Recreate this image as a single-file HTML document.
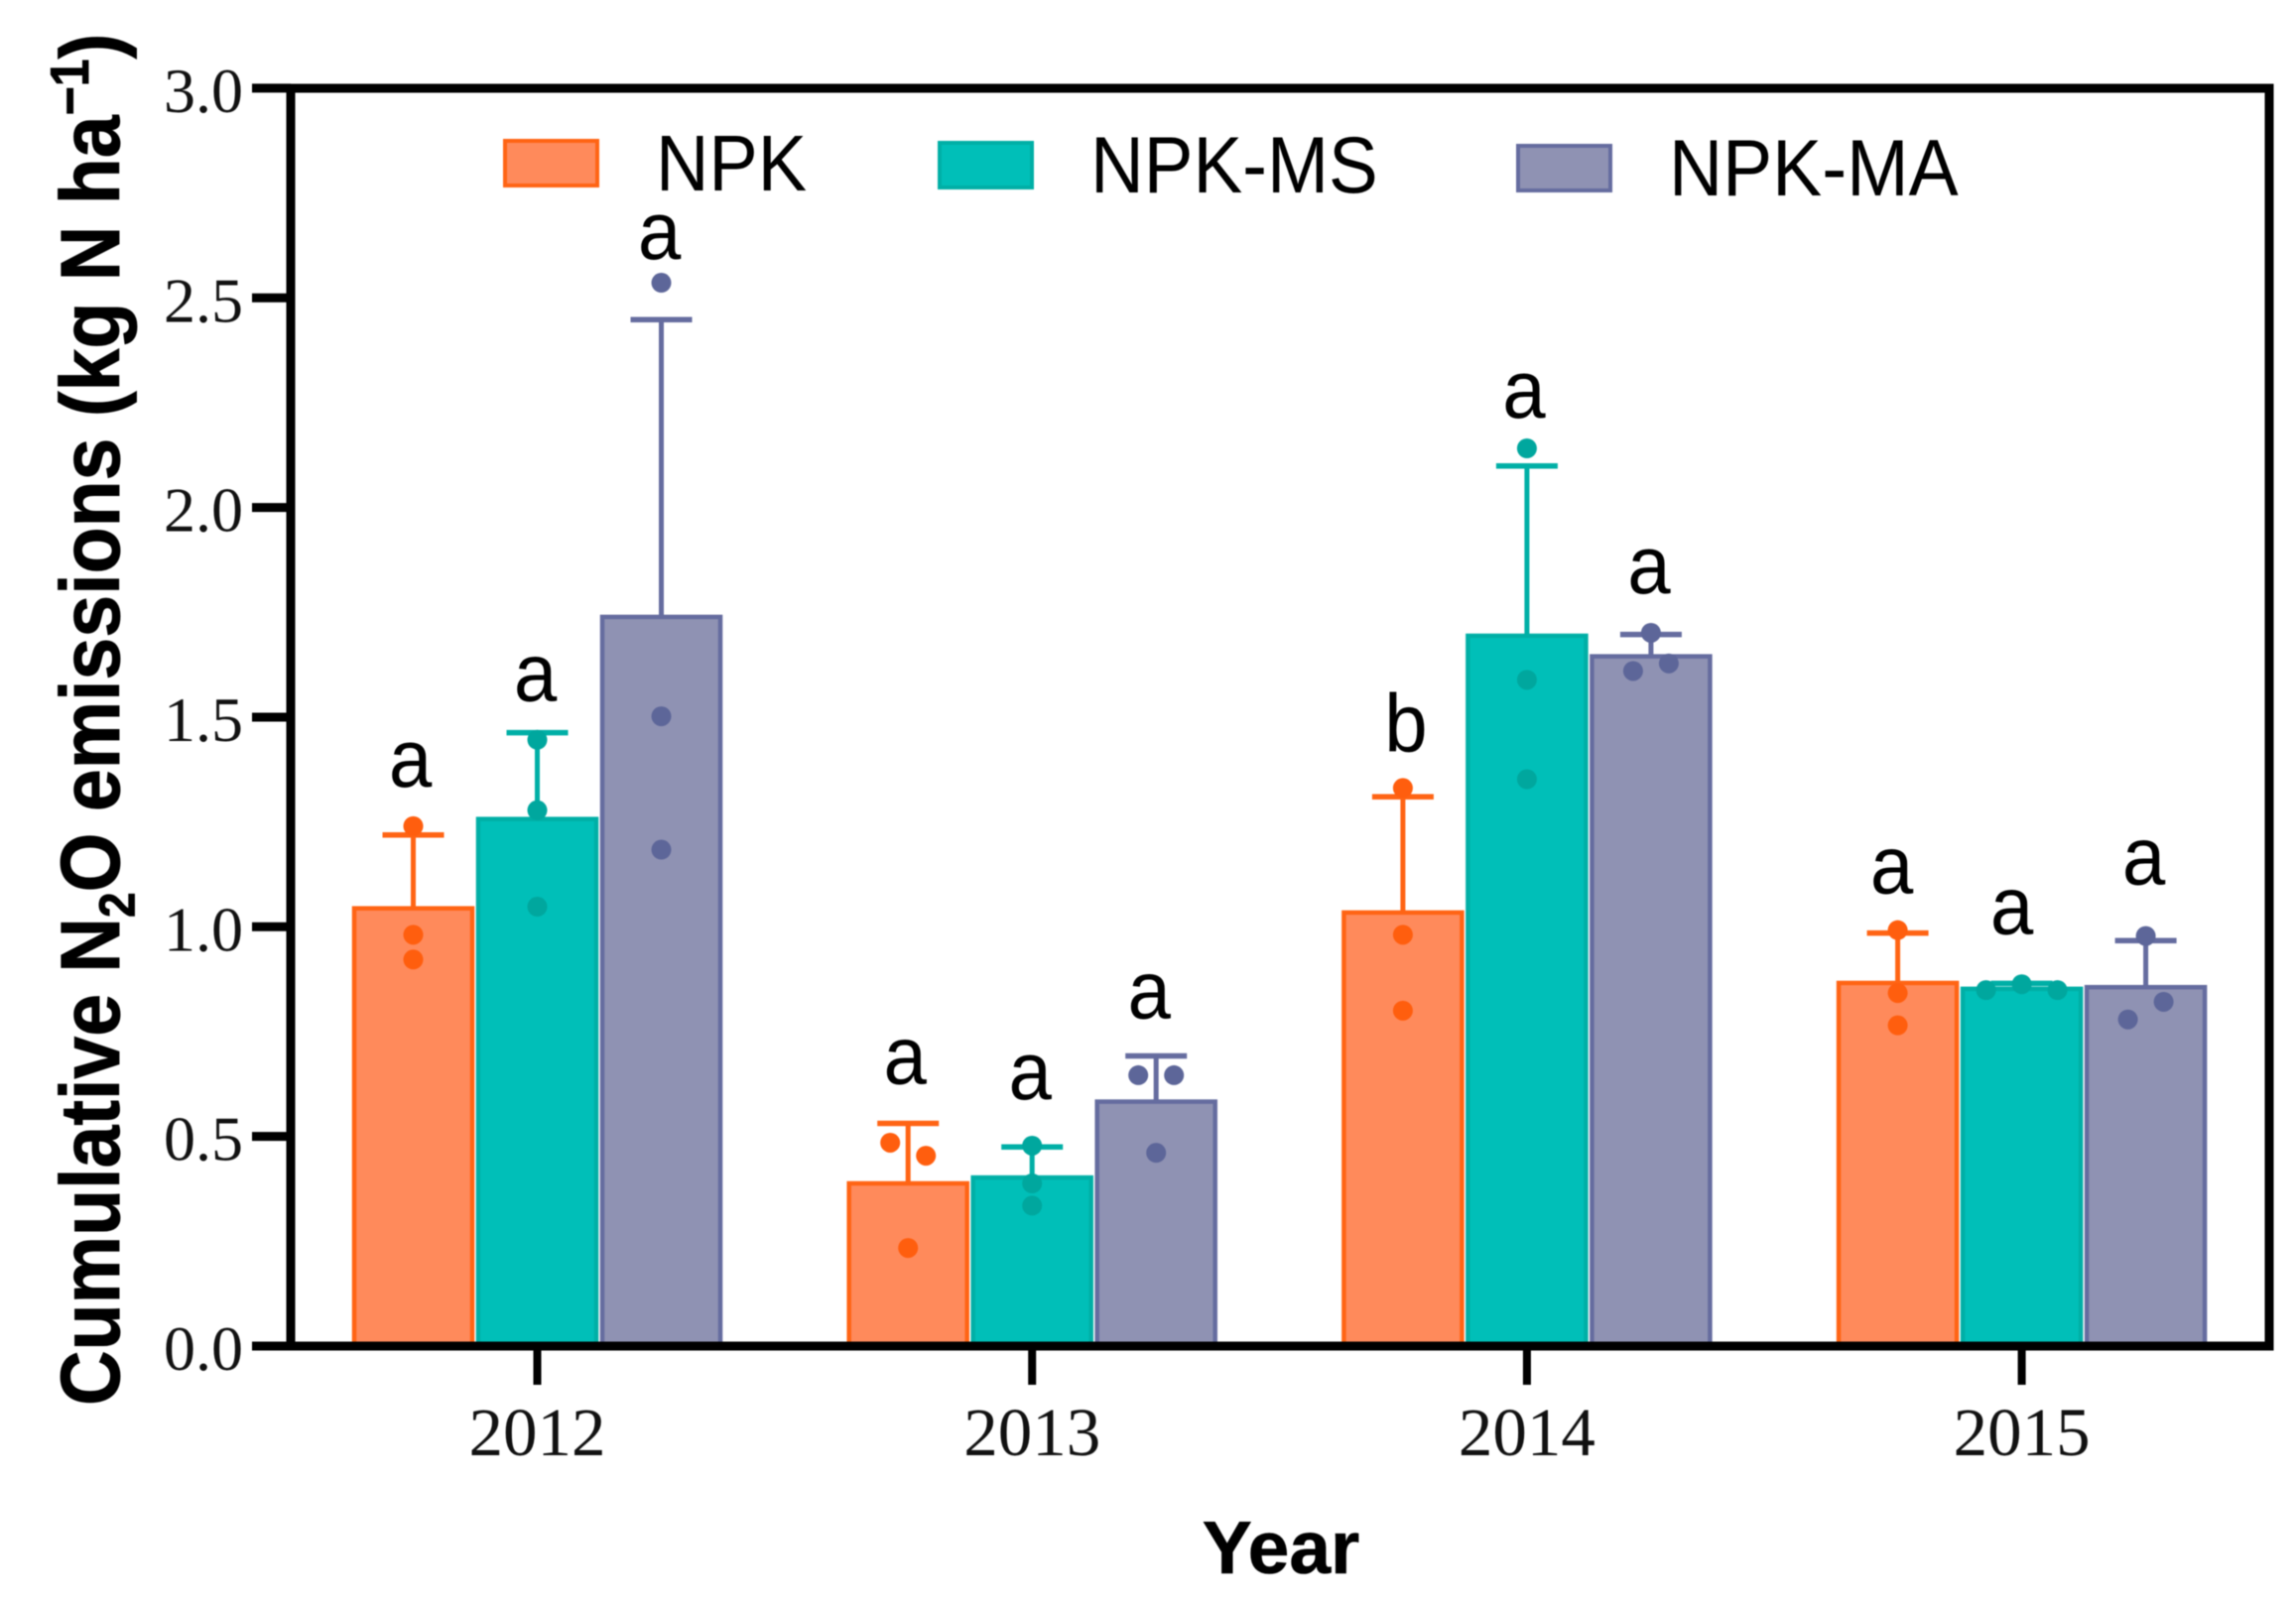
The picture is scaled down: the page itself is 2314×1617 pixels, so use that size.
<!DOCTYPE html>
<html lang="en">
<head>
<meta charset="utf-8">
<title>Cumulative N2O emissions</title>
<style>
html,body{margin:0;padding:0;background:#fff;}
svg{display:block;filter:blur(0.6px);}
.serif{font-family:"Liberation Serif",serif;fill:#111;}
.sans{font-family:"Liberation Sans",sans-serif;fill:#000;}
</style>
</head>
<body>
<svg id="chart" xmlns="http://www.w3.org/2000/svg" width="2314" height="1617" viewBox="0 0 2314 1617">
  <rect x="0" y="0" width="2314" height="1617" fill="#fff"/>
  <g id="bars"></g>
  <g id="axes"></g>
  <g>
    <g>
      <rect x="509" y="142" width="93" height="45" fill="#FF8A5B" stroke="#FF6414" stroke-width="4"/>
      <text class="sans" transform="translate(661,192) scale(1,1.08)" font-size="74">NPK</text>
    </g>
    <g>
      <rect x="947" y="144" width="93" height="45" fill="#00BFB8" stroke="#00AFA6" stroke-width="4"/>
      <text class="sans" transform="translate(1099,194) scale(1,1.08)" font-size="74.5">NPK-MS</text>
    </g>
    <g>
      <rect x="1530" y="147" width="93" height="45" fill="#8F92B3" stroke="#656C9F" stroke-width="4"/>
      <text class="sans" transform="translate(1682,197) scale(1,1.08)" font-size="75">NPK-MA</text>
    </g>
  </g>
  <text class="sans" font-weight="700" font-size="77" stroke="#000" stroke-width="0.8" transform="translate(120,1417) rotate(-90) scale(1,1.1)" x="0" y="0">Cumulative N<tspan font-size="46" dy="14">2</tspan><tspan dy="-14">O emissions (kg N ha</tspan><tspan font-size="50" dy="-28">−1</tspan><tspan dy="28">)</tspan></text>
  <text class="sans" font-weight="700" font-size="75" stroke="#000" stroke-width="0.6" x="1291" y="1586" text-anchor="middle">Year</text>
</svg>
<script>
var categories = ['2012', '2013', '2014', '2015'];
var seriesNames = ['NPK', 'NPK-MS', 'NPK-MA'];
var yTickLabels = ['0.0', '0.5', '1.0', '1.5', '2.0', '2.5', '3.0'];

var meanNPK = [1.044, 0.388, 1.034, 0.866];
var meanMS = [1.257, 0.402, 1.694, 0.852];
var meanMA = [1.739, 0.583, 1.645, 0.856];

var errorTopNPK = [1.219, 0.531, 1.31, 0.985];
var errorTopMS = [1.463, 0.475, 2.099, 0.865];
var errorTopMA = [2.448, 0.692, 1.697, 0.967];

var pointsNPK = [[1.24, 0.981, 0.922], [0.485, 0.454, 0.234], [1.331, 0.981, 0.80], [0.992, 0.842, 0.765]];
var pointsMS = [[1.446, 1.278, 1.048], [0.478, 0.388, 0.335], [2.141, 1.589, 1.352], [0.849, 0.863, 0.849]];
var pointsMA = [[2.536, 1.502, 1.184], [0.646, 0.646, 0.461], [1.701, 1.61, 1.628], [0.978, 0.779, 0.821]];

var jitterNPK = [[0, 0, 0], [-1, 1, 0], [0, 0, 0], [0, 0, 0]];
var jitterMS = [[0, 0, 0], [0, 0, 0], [0, 0, 0], [-2, 0, 2]];
var jitterMA = [[0, 0, 0], [-1, 1, 0], [0, -1, 1], [0, -1, 1]];

var lettersNPK = ['a', 'a', 'b', 'a'];
var lettersMS = ['a', 'a', 'a', 'a'];
var lettersMA = ['a', 'a', 'a', 'a'];

var NS = 'http://www.w3.org/2000/svg';
var PLOT_BOTTOM = 1357;
var UNIT = 422.7;
var GROUP_START = 541.5;
var GROUP_STEP = 498.7;
var BAR_STEP = 125;
var BAR_W = 123.5;
var JITTER_STEP = 18;
var LETTER_GAP = [[40, 32, 24], [40, 47, 38], [37, 31, 40], [37, 50, 52]];
var LETTER_NUDGE = [[-3, -2, -2], [-3, -2, -7], [3, -3, -2], [-6, -10, -2]];

var means = [meanNPK, meanMS, meanMA];
var errorTops = [errorTopNPK, errorTopMS, errorTopMA];
var points = [pointsNPK, pointsMS, pointsMA];
var jitters = [jitterNPK, jitterMS, jitterMA];
var letters = [lettersNPK, lettersMS, lettersMA];
var keys = ['npk', 'npk-ms', 'npk-ma'];
var fills = ['#FF8A5B', '#00BFB8', '#8F92B3'];
var strokes = ['#FF6414', '#00AFA6', '#656C9F'];
var dotColors = ['#FF5E0E', '#00A79E', '#5D6699'];

function yScale(v) { return PLOT_BOTTOM - v * UNIT; }
function xGroup(i) { return GROUP_START + i * GROUP_STEP; }
function xBar(i, s) { return xGroup(i) + (s - 1) * BAR_STEP; }

function make(parent, tag, attrs, text) {
  var el = document.createElementNS(NS, tag);
  for (var k in attrs) { el.setAttribute(k, attrs[k]); }
  if (text !== undefined) { el.textContent = text; }
  parent.appendChild(el);
  return el;
}

var barsLayer = document.getElementById('bars');
var axesLayer = document.getElementById('axes');

categories.forEach(function (cat, i) {
  means.forEach(function (series, s) {
    var cx = xBar(i, s);
    var top = yScale(series[i]);
    var errY = yScale(errorTops[s][i]);

    var errLine = make(barsLayer, 'line', { x1: cx, x2: cx, y1: top, y2: errY, stroke: strokes[s], 'stroke-width': 5 });
    
    

    var errCap = make(barsLayer, 'line', { x1: cx - 31, x2: cx + 31, y1: errY, y2: errY, stroke: strokes[s], 'stroke-width': 5.5 });
    
    

    var bar = make(barsLayer, 'rect', { x: cx - BAR_W / 2 + 2.25, y: top, width: BAR_W - 4.5, height: PLOT_BOTTOM - top, fill: fills[s], stroke: strokes[s], 'stroke-width': 4.5 });
    
    

    points[s][i].forEach(function (p, j) {
      var dot = make(barsLayer, 'circle', { cx: cx + jitters[s][i][j] * JITTER_STEP, cy: yScale(p), r: 10, fill: dotColors[s] });
      
      
    });

    var highest = Math.max(errorTops[s][i], Math.max.apply(null, points[s][i]));
    var lx = cx + LETTER_NUDGE[i][s];
    var ly = yScale(highest) - LETTER_GAP[i][s];
    var sig = make(barsLayer, 'text', { transform: 'translate(' + lx + ',' + ly + ') scale(1,1.06)', 'text-anchor': 'middle', 'font-size': 78, 'class': 'sans' }, letters[s][i]);
    
    
  });
});

var frame = make(axesLayer, 'rect', { x: 293, y: 89, width: 1994, height: 1268, fill: 'none', stroke: '#000', 'stroke-width': 9 });



yTickLabels.forEach(function (label) {
  var v = parseFloat(label);
  var yy = yScale(v);
  var tick = make(axesLayer, 'line', { x1: 254, x2: 293, y1: yy, y2: yy, stroke: '#000', 'stroke-width': 9 });
  
  
  var txt = make(axesLayer, 'text', { x: 245, y: yy + 24, 'text-anchor': 'end', 'font-size': 64, 'class': 'serif' }, label);
  
  
});

categories.forEach(function (cat, i) {
  var xx = xGroup(i);
  var tick = make(axesLayer, 'line', { x1: xx, x2: xx, y1: PLOT_BOTTOM, y2: 1396, stroke: '#000', 'stroke-width': 8 });
  
  
  var txt = make(axesLayer, 'text', { x: xx, y: 1467, 'text-anchor': 'middle', 'font-size': 69, 'class': 'serif' }, cat);
  
  
});
</script>
</body>
</html>
